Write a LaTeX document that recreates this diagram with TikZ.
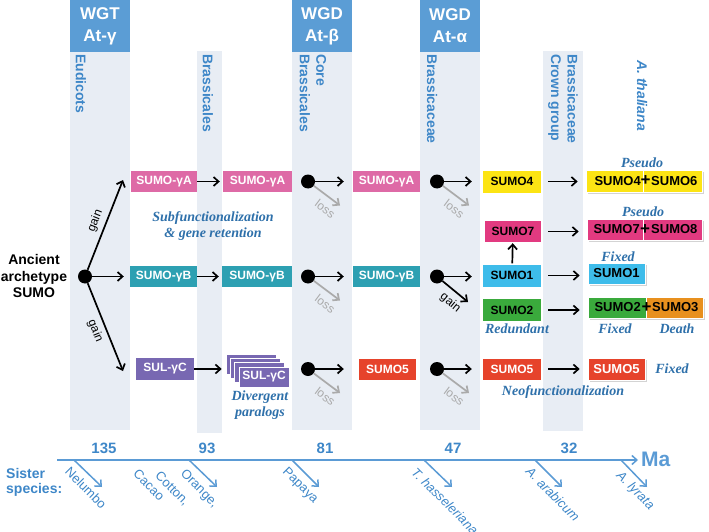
\documentclass[tikz,border=0pt]{standalone}
\usepackage{fontspec}
\setmainfont{Liberation Sans}
\newfontfamily\serifbi{Liberation Serif}
\usetikzlibrary{arrows.meta,shadows}
\definecolor{bandc}{RGB}{232,237,244}
\definecolor{hdrc}{RGB}{91,157,213}
\definecolor{lblue}{RGB}{62,135,200}
\definecolor{tblue}{RGB}{91,155,213}
\definecolor{ann}{RGB}{46,112,170}
\definecolor{pinkA}{RGB}{222,106,166}
\definecolor{tealB}{RGB}{45,160,178}
\definecolor{purC}{RGB}{120,104,178}
\definecolor{redc}{RGB}{230,67,43}
\definecolor{yelc}{RGB}{252,228,20}
\definecolor{magc}{RGB}{226,58,128}
\definecolor{cyanc}{RGB}{62,188,234}
\definecolor{grnc}{RGB}{58,170,60}
\definecolor{orgc}{RGB}{232,144,30}
\definecolor{grayarr}{RGB}{170,170,170}
\tikzset{
 bx/.style={rectangle, inner sep=0pt, minimum height=21pt, text=white, font=\bfseries\fontsize{12}{14}\selectfont},
 bxk/.style={bx, text=black},
 fbx/.style={rectangle, inner sep=0pt, minimum height=22pt, draw=white, line width=0.6pt, font=\bfseries\fontsize{13}{15}\selectfont, text=black, drop shadow={shadow xshift=1.5pt,shadow yshift=-1.5pt,opacity=0.35}},
 ftx/.style={inner sep=0pt, font=\bfseries\fontsize{13}{15}\selectfont, text=black},
 plusn/.style={inner sep=0pt, font=\bfseries\fontsize{17}{17}\selectfont, text=black},
 dotn/.style={circle, fill=black, minimum size=14pt, inner sep=0pt},
 arr/.style={line width=1.7pt, -{Straight Barb[length=5pt,width=9pt]}},
 garr/.style={arr, draw=grayarr},
 lossl/.style={text=grayarr, font=\fontsize{12}{14}\selectfont, sloped, below=3pt, pos=0.7},
 gainl/.style={text=black, font=\fontsize{12}{14}\selectfont, sloped},
 bandlbl/.style={rotate=-90, anchor=west, text=lblue, font=\bfseries\fontsize{14}{16.5}\selectfont, align=left, inner sep=0pt},
 hdr/.style={fill=hdrc, text=white, font=\bfseries\fontsize{17}{22}\selectfont, align=center, minimum width=60pt, minimum height=52pt, inner sep=0pt},
 note/.style={text=ann, font=\serifbi\bfseries\itshape\fontsize{14}{16}\selectfont, align=center, inner sep=0pt},
 num/.style={text=lblue, font=\bfseries\fontsize{15}{17}\selectfont},
 sp/.style={text=lblue, font=\fontsize{13}{15}\selectfont, rotate=-45, inner sep=0pt},
 tick/.style={draw=tblue, line width=1.5pt, -{Straight Barb[length=5pt,width=9pt]}},
}
\begin{document}
\begin{tikzpicture}[x=1pt,y=-1pt]
\useasboundingbox (0,0) rectangle (709,532);
% bands
\fill[bandc] (70,52) rectangle (130,430);
\fill[bandc] (197,51) rectangle (222,433);
\fill[bandc] (292,52) rectangle (352,430);
\fill[bandc] (420,52) rectangle (480,430);
\fill[bandc] (543,51) rectangle (583,431);
% headers
\node[hdr] (h1) at (100,26) {WGT\\At-γ};
\node[hdr] (h2) at (322,26) {WGD\\At-β};
\node[hdr] (h3) at (450,26) {WGD\\At-α};
% band labels
\node[bandlbl] (eud) at (81,54) {Eudicots};
\node[bandlbl] (brs) at (208,54) {Brassicales};
\node[bandlbl] (core) at (313,54) {Core\\Brassicales};
\node[bandlbl] (bra) at (432,54) {Brassicaceae};
\node[bandlbl] (crown) at (563,54) {Brassicaceae\\Crown group};
\node[bandlbl, font=\bfseries\itshape\fontsize{14}{16.5}\selectfont] (ath) at (642,60) {A. thaliana};
% root
\node[align=center, font=\bfseries\fontsize{14}{16.5}\selectfont] (anc) at (34,276) {Ancient\\archetype\\SUMO};
\node[dotn] (root) at (85,276.5) {};
\coordinate (gup) at (123,180);
\coordinate (gdn) at (123,371);
% column 1
\node[bx, fill=pinkA, minimum width=66pt] (gA1) at (164,181.5) {SUMO-γA};
\node[bx, fill=tealB, minimum width=67pt] (gB1) at (163.5,276.5) {SUMO-γB};
\node[bx, fill=purC, minimum width=58pt, minimum height=22pt] (gC1) at (165,369) {SUL-γC};
% column 2
\node[bx, fill=pinkA, minimum width=69pt] (gA2) at (257.5,181.5) {SUMO-γA};
\node[bx, fill=tealB, minimum width=70pt] (gB2) at (257,276.5) {SUMO-γB};
\node[bx, fill=purC, draw=white, line width=0.6pt, minimum width=50pt, minimum height=20pt] (sk1) at (251,364) {};
\node[bx, fill=purC, draw=white, line width=0.6pt, minimum width=50pt, minimum height=20pt] (sk2) at (255.3,368.3) {};
\node[bx, fill=purC, draw=white, line width=0.6pt, minimum width=50pt, minimum height=20pt] (sk3) at (259.7,372.7) {};
\node[bx, fill=purC, draw=white, line width=0.6pt, minimum width=50pt, minimum height=20pt] (sk4) at (264,377) {SUL-γC};
% column 3 dots
\node[dotn] (d1) at (308,181.5) {};
\node[dotn] (d2) at (308,276.5) {};
\node[dotn] (d3) at (308,369) {};
\coordinate (l1) at (340,205.5);
\coordinate (l2) at (340,300.5);
\coordinate (l3) at (340,393);
% column 4
\node[bx, fill=pinkA, minimum width=67pt] (gA3) at (386.5,181.5) {SUMO-γA};
\node[bx, fill=tealB, minimum width=67pt] (gB3) at (386.5,276.5) {SUMO-γB};
\node[bx, fill=redc, minimum width=57pt] (s5a) at (387.5,369) {SUMO5};
\node[dotn] (e1) at (437,181.5) {};
\node[dotn] (e2) at (437,276.5) {};
\node[dotn] (e3) at (437,369) {};
\coordinate (m1) at (469,205.5);
\coordinate (g2) at (468,302);
\coordinate (m3) at (469,393);
% column 5
\node[bxk, fill=yelc, minimum width=58pt, minimum height=22pt] (s4) at (512,181.5) {SUMO4};
\node[bxk, fill=magc, minimum width=56pt] (s7) at (513,231.5) {SUMO7};
\node[bxk, fill=cyanc, minimum width=58pt, minimum height=22pt] (s1) at (512,275.5) {SUMO1};
\node[bxk, fill=grnc, minimum width=58pt, minimum height=22pt] (s2) at (512,310) {SUMO2};
\node[bx, fill=redc, minimum width=58pt] (s5b) at (512,369) {SUMO5};
% column 6
\node[fbx, fill=yelc, minimum width=57pt] (s4f) at (614.5,181) {};
\node[fbx, fill=yelc, minimum width=59pt] (s6f) at (672.5,181) {};
\node[ftx, anchor=east] (s4t) at (641,181) {SUMO4};
\node[ftx, anchor=west] (s6t) at (651,181) {SUMO6};
\node[plusn] (p1) at (645.5,181) {+};
\node[fbx, fill=magc, minimum width=56pt, minimum height=21pt] (s7f) at (615,229.5) {};
\node[fbx, fill=magc, minimum width=59pt, minimum height=21pt] (s8f) at (672.5,229.5) {};
\node[ftx, anchor=east] (s7t) at (640,229.5) {SUMO7};
\node[ftx, anchor=west] (s8t) at (651,229.5) {SUMO8};
\node[plusn] (p2) at (645,229.5) {+};
\node[fbx, fill=cyanc, minimum width=57pt, minimum height=21pt] (s1f) at (616.5,273.5) {SUMO1};
\node[fbx, fill=grnc, minimum width=58pt, minimum height=21pt] (s2f) at (617,307.5) {};
\node[fbx, fill=orgc, minimum width=57pt, minimum height=21pt] (s3f) at (674.5,307.5) {};
\node[ftx, anchor=east] (s2t) at (641,307.5) {SUMO2};
\node[ftx, anchor=west] (s3t) at (652,307.5) {SUMO3};
\node[plusn] (p3) at (646.5,308) {+};
\node[fbx, fill=redc, text=white, minimum width=57pt] (s5c) at (616.5,369) {SUMO5};
% arrows from root
\draw[arr] (root) -- (gup) node[gainl, above=1pt, midway] {gain};
\draw[arr, shorten >=6pt] (root) -- (gB1);
\draw[arr] (root) -- (gdn) node[gainl, below=1pt, midway] {gain};
% col1 -> col2
\draw[arr, shorten >=3pt] (gA1) -- (gA2);
\draw[arr, shorten >=3pt] (gB1) -- (gB2);
\draw[arr, shorten >=4pt] (gC1.east) -- (gC1.east -| sk1.west);
% col3
\draw[arr, shorten >=9pt] (d1) -- (gA3);
\draw[arr, shorten >=9pt] (d2) -- (gB3);
\draw[arr, shorten >=15pt] (d3) -- (s5a);
\draw[garr] (d1) -- (l1) node[lossl] {loss};
\draw[garr] (d2) -- (l2) node[lossl] {loss};
\draw[garr] (d3) -- (l3) node[lossl] {loss};
% col4
\draw[arr, shorten >=11pt] (e1) -- (e1 -| s4.west);
\draw[arr, shorten >=11pt] (e2) -- (e2 -| s1.west);
\draw[arr, shorten >=11pt] (e3) -- (e3 -| s5b.west);
\draw[garr] (e1) -- (m1) node[lossl] {loss};
\draw[garr] (e3) -- (m3) node[lossl] {loss};
\draw[arr] (e2) -- (g2) node[gainl, below=2pt, pos=0.6] {gain};
% col5
\draw[arr, shorten <=1pt, shorten >=1pt] (s1) -- (s7);
\draw[arr, shorten <=7pt, shorten >=8pt] (s4.east) -- (s4.east -| s4f.west);
\draw[arr, shorten <=7pt, shorten >=8pt] (s7.east) -- (s7.east -| s7f.west);
\draw[arr, shorten <=7pt, shorten >=8pt] (s1.east) -- (s1.east -| s1f.west);
\draw[arr, shorten <=7pt, shorten >=8pt] (s2.east) -- (s2.east -| s2f.west);
\draw[arr, shorten <=7pt, shorten >=8pt] (s5b.east) -- (s5b.east -| s5c.west);
% annotations
\node[note] (n1) at (213,226) {Subfunctionalization\\\& gene retention};
\node[note] (n2) at (260,405) {Divergent\\paralogs};
\node[note] (n3) at (642,163) {Pseudo};
\node[note] (n4) at (643,212) {Pseudo};
\node[note] (n5) at (618,257) {Fixed};
\node[note] (n6) at (517,329) {Redundant};
\node[note] (n7) at (615,329) {Fixed};
\node[note] (n8) at (677,329) {Death};
\node[note] (n9) at (672,369) {Fixed};
\node[note] (n10) at (563,392) {Neofunctionalization};
% timeline
\coordinate (t0) at (57,460);
\coordinate (t1) at (638,460);
\draw[tick] (t0) -- (t1);
\node[anchor=west, text=tblue, font=\bfseries\fontsize{21}{24}\selectfont, inner sep=0pt] (ma) at (641,459) {Ma};
\node[num] (y1) at (104,448) {135};
\node[num] (y2) at (207,448) {93};
\node[num] (y3) at (325,448) {81};
\node[num] (y4) at (453,448) {47};
\node[num] (y5) at (569,448) {32};
\node[anchor=west, align=left, text=lblue, font=\bfseries\fontsize{14}{15.5}\selectfont, inner sep=0pt] (sis) at (6,482.5) {Sister\\species:};
\coordinate (k1) at (74,460);  \coordinate (k1e) at (102,487);
\coordinate (k2) at (189,460); \coordinate (k2e) at (217,487);
\coordinate (k3) at (292,460); \coordinate (k3e) at (319,487);
\coordinate (k4) at (424,460); \coordinate (k4e) at (452,487);
\coordinate (k5) at (535,460); \coordinate (k5e) at (562,487);
\coordinate (k6) at (621,460); \coordinate (k6e) at (647,487);
\draw[tick] (k1) -- (k1e);
\draw[tick] (k2) -- (k2e);
\draw[tick] (k3) -- (k3e);
\draw[tick] (k4) -- (k4e);
\draw[tick] (k5) -- (k5e);
\draw[tick] (k6) -- (k6e);
\node[sp] (sp1) at (86,488) {Nelumbo};
\node[sp] (sp2) at (149,485) {Cacao};
\node[sp] (sp3) at (172,489) {Cotton,};
\node[sp] (sp4) at (199,489) {Orange,};
\node[sp] (sp5) at (300,486) {Papaya};
\node[sp, font=\itshape\fontsize{13}{15}\selectfont] (sp6) at (445,501) {T. hasseleriana};
\node[sp, font=\itshape\fontsize{13}{15}\selectfont] (sp7) at (553,494) {A. arabicum};
\node[sp, font=\itshape\fontsize{13}{15}\selectfont] (sp8) at (635,491) {A. lyrata};
\end{tikzpicture}
\end{document}
